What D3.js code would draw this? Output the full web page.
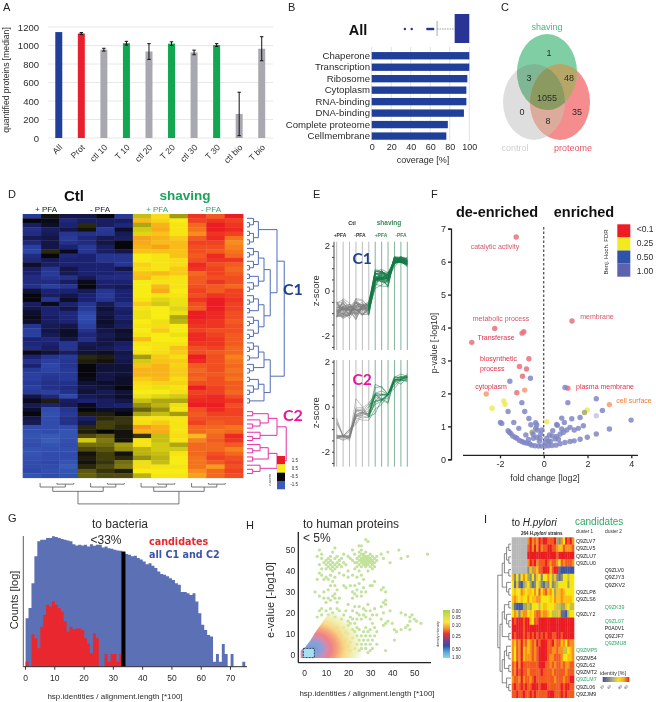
<!DOCTYPE html>
<html><head><meta charset="utf-8">
<script src="https://cdn.jsdelivr.net/npm/d3@7"></script>
<style>html,body{margin:0;padding:0;background:#fff}svg{display:block;font-family:"Liberation Sans",Arial,sans-serif;filter:blur(0.35px)}</style>
</head><body><svg id="c" width="656" height="702"></svg>
<script>
// ---------- Panel A
const aCats=["All","Prot","ctl 10","T 10","ctl 20","T 20","ctl 30","T 30","ctl bio","T bio"];
const aVals=[1145,1130,955,1025,935,1020,925,1005,260,965];
const aErr=[0,10,15,20,85,20,25,15,235,130];
const aCols=["#1f3f99","#e8202e","#a8a8b0","#12a650","#a8a8b0","#12a650","#a8a8b0","#12a650","#a8a8b0","#a8a8b0"];
const aTicks=[0,200,400,600,800,1000,1200];
// ---------- Panel B
const bCats=["Chaperone","Transcription","Ribosome","Cytoplasm","RNA-binding","DNA-binding","Complete proteome","Cellmembrane"];
const bVals=[100,100,98,97,97,94.5,78,76.5];
const bBox={q1:85,q3:100,whisker:67};
const bOutliers=[34,41,57,58,59,60,61,62,63];
const bTicks=[0,20,40,60,80,100];
// ---------- Panel C
const vennNumbers=[["1",549,53],["3",529,78],["48",569,78],["1055",547,98],["0",522,112],["35",577,112],["8",548,121]];
// ---------- Panel D / E (z-scores, 12 conditions)
const c1Rows=[
[-1.1,-0.45,-0.7,-0.7,-0.5,-1.1,0.3,0.6,0.15,1.4,1.25,1.5],
[-0.5,-0.55,-0.9,-0.8,-0.8,-0.8,0.8,0.65,0.5,1.35,1.4,1.35],
[-0.8,-0.6,-0.85,-0.35,-0.8,-0.9,0.2,0.85,0.55,1.2,1.5,1.4],
[-1.0,-0.8,-0.7,-0.45,-1.1,-0.6,0.35,0.9,0.55,1.15,1.5,1.45],
[-0.95,-0.75,-1.05,-1.0,-1.05,-0.75,0.4,0.75,0.55,1.05,1.4,1.35],
[-0.75,-0.7,-1.1,-0.9,-0.75,-0.8,0.95,0.85,0.7,1.25,1.45,1.15],
[-0.9,-0.7,-1.0,-0.95,-0.7,-0.5,0.9,0.8,0.8,1.35,1.35,1.05],
[-1.15,-0.7,-0.85,-1.1,-0.8,-0.5,0.85,0.95,0.8,1.3,1.3,1.1],
[-1.2,-0.35,-0.55,-1.05,-0.8,-0.7,0.75,0.75,0.75,1.3,1.25,1.15],
[-0.95,-0.5,-0.9,-0.85,-1.05,-1.05,0.5,0.55,0.75,1.25,1.45,1.2],
[-0.9,-0.75,-0.85,-0.85,-1.05,-1.05,0.5,0.55,0.6,1.3,1.4,1.4],
[-0.6,-0.8,-0.85,-0.85,-0.85,-1.05,0.65,0.55,0.6,1.45,1.3,1.25],
[-0.8,-1.05,-0.7,-0.85,-0.85,-0.7,0.6,0.55,0.7,1.4,1.35,1.2],
[-0.85,-1.1,-0.75,-0.85,-0.85,-0.9,0.75,0.8,0.7,1.2,1.35,1.25],
[-0.95,-1.05,-1.0,-0.75,-0.95,-0.95,0.8,0.6,0.55,1.25,1.3,1.3],
[-0.95,-0.95,-0.8,-0.55,-0.85,-0.85,0.5,0.55,0.55,1.25,1.4,1.3],
[-1.0,-1.15,-1.05,-0.5,-0.8,-0.75,0.5,0.8,0.55,1.3,1.25,1.2],
[-0.65,-0.85,-0.85,-0.75,-1.05,-0.85,0.5,0.9,0.5,1.35,1.25,1.35],
[-0.5,-0.8,-0.7,-0.85,-1.1,-0.85,0.5,0.55,0.55,1.3,1.4,1.35],
[-0.5,-1.05,-0.6,-0.85,-1.05,-0.85,0.55,0.4,0.45,1.4,1.5,1.4],
[-0.8,-0.55,-0.85,-1.05,-0.75,-1.0,0.7,0.35,0.45,1.3,1.5,1.35],
[-0.7,-0.85,-0.7,-1.1,-0.65,-0.85,0.55,0.5,0.4,1.25,1.5,1.35],
[-0.6,-0.85,-0.9,-1.25,-0.7,-0.8,0.45,0.5,0.45,1.5,1.45,1.3],
[-0.55,-0.8,-0.9,-1.3,-0.65,-0.85,0.45,0.5,0.2,1.5,1.45,1.3],
[-0.6,-0.8,-0.85,-1.25,-0.6,-0.75,0.5,0.45,0.25,1.45,1.4,1.25],
[-1.05,-0.75,-0.7,-1.15,-0.65,-0.8,0.55,0.6,0.5,1.4,1.4,1.3],
[-1.15,-0.7,-0.6,-1.0,-0.7,-0.6,0.5,0.7,0.5,1.35,1.3,1.3],
[-1.15,-0.75,-0.6,-0.9,-0.75,-0.65,0.55,0.5,0.45,1.45,1.35,1.25],
[-0.85,-0.9,-0.7,-1.0,-0.7,-0.6,0.8,0.5,0.5,1.45,1.4,1.25],
[-0.9,-0.85,-1.05,-0.75,-0.7,-0.8,0.55,0.55,0.55,1.4,1.4,1.25],
[-0.95,-0.8,-1.05,-0.7,-0.75,-0.85,0.5,0.55,0.75,1.3,1.35,1.2],
[-0.55,-0.65,-0.8,-0.65,-0.6,-0.7,0.55,0.6,0.7,1.3,1.25,1.2],
[-0.85,-1.05,-1.1,-0.35,-0.4,-0.75,0.15,0.7,0.6,1.5,1.3,1.1],
[-1.0,-1.15,-1.05,-0.4,-0.45,-0.7,0.35,0.75,0.7,1.45,1.3,1.15],
[-0.85,-1.25,-1.05,-0.5,-0.65,-0.65,0.75,0.85,0.65,1.25,1.3,1.2],
[-1.1,-1.2,-1.1,-0.5,-0.65,-0.65,0.85,0.85,0.7,1.2,1.3,1.15],
[-1.15,-1.1,-1.1,-0.5,-0.7,-0.65,0.85,0.85,0.7,1.25,1.25,1.2],
[-1.15,-1.05,-1.1,-0.55,-0.7,-0.6,0.7,0.8,0.6,1.2,1.3,1.15],
[-1.1,-1.0,-1.0,-0.65,-0.6,-0.6,0.6,0.65,0.65,1.3,1.3,1.25],
[-1.15,-1.0,-0.95,-0.7,-0.65,-0.5,0.55,0.45,0.55,1.5,1.35,1.25],
[-1.1,-1.15,-1.0,-0.65,-0.75,-0.65,0.5,0.5,0.6,1.35,1.35,1.2],
[-0.7,-0.9,-1.25,-0.75,-0.7,-0.6,0.45,0.4,0.35,1.4,1.45,1.3],
[-0.55,-0.4,-0.8,-0.85,-0.8,-0.7,0.3,0.2,0.2,1.45,1.45,1.4],
[-0.75,-0.85,-0.75,-0.55,-0.8,-0.85,0.1,0.25,0.45,1.5,1.5,1.3]
];
const c2Rows=[
[-0.6,-1.3,-1.05,-0.5,-0.6,-0.6,-0.1,0.1,0.55,1.3,1.45,1.35],
[-0.5,-1.35,-1.1,-0.4,-0.4,-0.5,0.2,0.3,0.15,1.25,1.35,1.35],
[-0.7,-1.3,-1.0,-0.8,-0.35,-0.3,0.55,0.55,0.55,1.3,1.3,1.3],
[-0.75,-1.3,-1.0,-0.7,-0.25,-0.3,0.6,0.7,0.55,1.35,1.25,1.3],
[-1.3,-1.3,-1.3,-0.35,-0.25,-0.35,1.0,0.85,0.55,1.2,1.2,1.15],
[-1.35,-1.3,-1.4,-0.4,-0.5,-0.45,0.85,0.9,0.55,1.2,1.15,1.2],
[-1.4,-1.45,-1.4,-0.2,-0.1,-0.45,-0.3,0.3,0.6,0.8,1.2,1.45],
[-1.35,-1.5,-1.35,0.35,0.0,-0.45,0.55,0.3,0.55,1.1,1.25,1.4],
[-1.3,-1.4,-1.3,-0.05,-0.05,0.15,0.55,0.35,0.2,1.2,1.2,1.25],
[-1.4,-1.35,-1.35,-0.2,-0.15,0.1,0.25,0.35,0.35,1.2,1.2,1.1],
[-1.4,-1.3,-1.3,-0.45,-0.25,-0.45,0.25,0.3,0.55,1.2,1.3,1.2],
[-1.35,-1.3,-1.3,-0.4,-0.25,-0.35,0.1,0.25,0.5,1.15,1.35,1.3],
[-1.3,-1.25,-1.4,-0.45,-0.3,-0.05,0.45,0.3,0.5,1.15,1.25,1.35],
[-1.3,-1.3,-1.5,-0.35,-0.2,-0.0,0.6,0.55,0.55,1.15,1.0,1.3],
[-1.25,-1.35,-1.4,-0.15,-0.3,-0.4,0.5,0.5,0.5,1.05,1.2,1.35],
[-1.4,-1.3,-1.35,-0.1,-0.2,-0.2,0.25,0.55,0.55,0.95,1.2,1.3]
];
const colGroups=["+ PFA","- PFA","+ PFA","- PFA"];
const dLegendVals=[1.5,0.5,-0.5,-1.5];
const T2=[0,0],T3=[0,[0,0]];
const rowTreeC1=[[[[T3,[T2,T2]]],[[[T3,T3],[T2,T3]],[[T3,T2],[T3,T3]]]],[[[T3,T2],T3],[[T2,T3],T2]]];
const rowTreeC2=[[[T2,T3],T3],[[T3,T2],T3]];
const colTree=[[[T3,T3]],[[T3,T3]]];
// ---------- Panel F
const fPoints=[
[-1.26,6.75,"r"],[-2.24,3.97,"r"],[-0.91,3.87,"r"],[-0.99,3.83,"r"],[-3.29,3.55,"r"],[-0.68,3.05,"r"],[-1.11,2.82,"r"],[-0.79,2.74,"r"],[-0.97,2.52,"r"],[-1.23,2.02,"r"],[1.29,4.2,"r"],[1.10,2.16,"r"],
[-2.63,1.98,"o"],[-0.87,2.10,"o"],[3.0,1.66,"o"],
[-1.83,1.77,"y"],[-1.77,1.67,"y"],[-2.36,1.55,"y"],[0.14,1.14,"y"],[1.99,1.5,"y"],[1.86,1.42,"g"],[-0.53,0.82,"g"],
[-1.55,2.37,"b"],[-0.61,2.46,"b"],[0.97,2.18,"b"],[-1.0,1.72,"b"],[1.1,1.72,"b"],[2.4,1.84,"b"],[-1.63,1.45,"b"],[-0.87,1.45,"b"],[-0.68,1.24,"b"],[-1.98,1.12,"b"],[-1.92,1.09,"b"],[-1.37,1.12,"b"],[-1.14,0.94,"b"],[-1.63,0.87,"b"],[-1.57,0.82,"b"],[-0.37,1.11,"b"],[-0.59,1.05,"b"],[-0.32,1.04,"b"],[-0.82,0.74,"b"],[-0.49,0.77,"b"],[-0.37,0.94,"b"],[-0.3,0.89,"b"],[-0.09,0.89,"b"],[-0.14,0.77,"b"],[-0.47,0.64,"b"],[-0.32,0.67,"b"],[-0.17,0.64,"b"],
[-1.42,0.71,"b"],[-1.31,0.67,"b"],[-1.23,0.64,"b"],[-1.11,0.57,"b"],[-1,0.54,"b"],[-0.9,0.51,"b"],[-0.78,0.49,"b"],[-0.65,0.47,"b"],[-0.55,0.43,"b"],[-0.4,0.41,"b"],[-0.24,0.4,"b"],[-0.09,0.4,"b"],[0.06,0.4,"b"],[0.21,0.41,"b"],[0.37,0.42,"b"],[0.56,0.43,"b"],[0.75,0.47,"b"],[0.97,0.51,"b"],[1.2,0.54,"b"],[1.39,0.56,"b"],[1.66,0.61,"b"],[1.99,0.67,"b"],[2.4,0.77,"b"],[3,0.92,"b"],
[3.99,1.19,"b"],[2.68,1.48,"b"],[2.4,1.32,"l"],[1.66,1.27,"b"],[1.28,1.23,"b"],[0.82,1.25,"b"],[0.94,1.12,"b"],[0.59,1.06,"b"],[0.82,0.92,"b"],[1.81,1.02,"b"],[1.58,0.94,"b"],[1.39,0.89,"b"],[1.2,0.97,"b"],[1.05,0.89,"b"],[0.9,0.82,"b"],[0.75,0.77,"b"],[0.59,0.69,"b"],[0.41,0.87,"b"],[0.26,0.74,"b"],[0.14,0.64,"b"],[0.4,0.71,"b"],[0.52,0.62,"b"],[0.67,0.61,"b"],[0.21,0.54,"b"],[0.06,0.51,"b"],[-0.7,0.6,"b"],[-1.5,0.78,"b"],[0.3,0.55,"b"],[0.62,1.03,"b"],[-0.2,0.55,"b"]
];
const fColors={r:"#e8707c",o:"#f39a6e",y:"#eeea5a",g:"#a5a860",b:"#8086c4",l:"#c4c6e2"};
const fLabels=[["catalytic activity",495,249,"middle","#d8556a"],["metabolic process",501,321,"middle","#d8556a"],["Transferase",496,340,"middle","#e0304a"],["biosynthetic",480,361,"start","#e0304a"],["process",480,370.5,"start","#e0304a"],["cytoplasm",491,388.5,"middle","#e0304a"],["membrane",597,319,"middle","#d8556a"],["plasma membrane",605,388.5,"middle","#e0304a"],["cell surface",634,403,"middle","#f07a30"]];
const fLegendCols=["#ee1c25","#f0ea1e","#3052a8","#5d62ac"];
const fLegendLabs=["<0.1","0.25","0.50","1.00"];
// ---------- Panel G (log-count heights per 1% bin)
const gBlue=[1.48,1.79,2.55,3.37,3.83,3.88,3.88,3.93,3.93,3.98,3.96,3.93,3.90,3.88,3.85,3.83,3.74,3.70,3.72,3.70,3.72,3.67,3.74,3.69,3.72,3.72,3.64,3.67,3.62,3.60,3.57,3.55,3.54,3.52,3.44,3.42,3.37,3.39,3.32,3.27,3.21,3.13,3.16,3.08,3.01,2.91,2.83,2.81,2.76,2.70,2.65,2.55,2.50,2.28,2.28,2.24,2.19,2.24,1.99,1.63,1.28,1.12,0.97,0.92,0.15,0.39,0.15,0.69,0.39,0,0.39,0,0,0,0.15];
const gRed=[0.15,0,0.99,0.87,0.56,1.22,1.58,1.89,1.84,1.99,1.89,1.79,1.68,1.38,1.07,1.22,1.14,1.17,1.17,1.12,0.87,0.71,0.41,1.02,0.87,0,0,0.39,0.15,0.39,0.39,0.15,0.39,0.15];
const gTicks=[0,10,20,30,40,50,60,70];
// ---------- Panel H
const hPoints=[[28,55],[29,54],[26,52],[7,50],[14,51],[22,50],[25,52],[8,48],[13,49],[18,48],[6,47],[8,46],[12,47],[15,47],[17,46],[20,47],[23,48],[25,49],[26,50],[27,48],[28,49],[30,48],[31,47],[33,47],[35,48],[36,46],[38,49],[39,44],[43,50],[44,46],[47,47],[56,48],
[21,46],[22,45],[23,44],[24,46],[24,44],[25,47],[25,45],[25,43],[26,48],[26,46],[26,45],[26,44],[26,42],[27,47],[27,46],[27,45],[27,44],[27,43],[28,47],[28,46],[28,45],[28,44],[28,43],[28,42],[29,47],[29,46],[29,45],[29,44],[29,43],[30,46],[30,45],[30,44],[30,42],[31,45],[31,44],[31,43],[32,46],[32,44],[32,42],[24,42],[23,41],[31,41],[29,40],[25,40],[33,45],
[7,43],[8,41],[7,39],[9,44],[10,45],[10,43],[10,41],[11,46],[11,44],[11,42],[12,45],[12,43],[12,41],[13,44],[13,42],[13,40],[14,46],[14,43],[14,41],[15,44],[15,42],[16,45],[16,43],[17,42],[18,44],[19,43],[8,38],[6,36],[9,36],[10,37],[11,36],[12,38],[13,35],[14,37],[16,39],[18,38],[20,40],[20,37],[22,38],[24,37],[26,38],[27,36],[30,33],[31,33],[32,35],[21,33],[18,33],[19,32],[23,33],[25,34],[27,32],[26,30],[24,31],[23,29],[22,30],[24,28],[22,27],[26,28],[28,30],[12,33],[11,31],[14,33],[15,31],[36,32],[35,31],[37,30],[37,26],[36,25],[9,30],[5,30],[7,28],[9,27],[11,27],[12,26],[13,28],[14,29],[14,27],[16,27],[15,25],[10,25],[8,22],[7,21],[8,19],[6,18],[10,21],[12,22],[13,20],[15,22],[11,19],[14,18],[16,21],[17,17],[18,19],[19,21],[20,24],[21,18],[22,21],[23,23],[24,20],[25,23],[26,17],[25,19],[24,17],[23,15],[22,17],[21,15],[20,16],[27,19],[27,22],[28,18],[28,21],[29,24],[30,17],[30,21],[31,15],[31,19],[32,22],[32,13],[33,19],[35,17],[36,20],[37,24],[35,23],[37,15],[36,14],[38,16],[39,21],[40,15],[41,12],[42,11],[41,7],[44,12],[46,13],[47,14],[44,20],[46,19],[48,18],[48,16],[49,19],[50,17],[51,16],[53,15],[48,12],[37,2],
[15,13],[16,11],[17,9],[18,13],[19,11],[19,7],[20,14],[20,10],[21,6],[22,12],[22,8],[23,11],[24,9],[24,13],[24,5],[25,7],[25,12],[26,9],[26,5],[26,3],[27,11],[27,7],[28,13],[28,9],[28,5],[28,3],[29,11],[29,7],[30,12],[30,9],[30,5],[30,2],[31,7],[32,9],[33,11],[33,5],[31,3],[29,1],[25,2],[23,3],[21,2],[20,4],[18,3],[18,6],[16,5],[16,2],[14,3],[14,6]];
const hTicks=[0,10,20,30,40,50];
const hDensityStops=[[0,"#6f9fd8",1],[0.17,"#8f9fd6",1],[0.27,"#d08cb4",1],[0.36,"#ee8088",1],[0.48,"#f6a278",1],[0.62,"#f8d480",.95],[0.8,"#f0ecA0",.8],[1,"#d5e8a8",0]];
const hDensityEdge=[[-1.5,-1.6],[-1.5,2],[0.5,3.5],[2.7,6.5],[5,10.5],[8,15],[14,24],[40,24],[40,-1.6]];
const hLegendStops=["#a6d24e","#d7de42","#f9e640","#f79b2c","#e6322e","#8c3a84","#2e50ac","#5aa8dc","#8ad8ee"];
const hLegendLabs=[["0.00",611],["0.05",617],["0.10",625],["0.25",636],["0.50",649],["1.00",657]];
// ---------- Panel I
const iProteins=[["Q9ZLV7",1,0],["Q9ZLV5",1,0],["Q9ZLU7",1,0],["Q9ZLU0",1,0],["Q9ZLV0",2,0],["Q9ZJY3",2,0],["Q9ZKV2",2,0],["Q9ZLP8",1,0],["Q9ZLS6",1,0],["Q9ZK39",2,1],["Q9ZLY2",1,0],["Q9ZL07",2,1],["P0A0V1",2,0],["Q9ZJF7",2,0],["Q9ZMU8",2,1],["Q9ZMP5",1,1],["Q9ZM54",1,0],["Q9ZL62",1,0],["Q9ZMT2",1,0],["Q9ZLM7",1,1],["Q9ZL06",1,0],["Q9ZJM9",1,0]];
const iRows=["xxxxxxx 7978798 9988893 2759897","xxxxxxx 8979797 8899887 6687778","xxxxxxx 9999999 9999998 9999999","xxxxxxx 7989788 8987887 5878887","xxxxxxx 2637688 9996899 1000000","6252575 3252652 5575362 1255455","5161034 5312542 1325234 5555355","5655765 6657585 7867536 6765555","6765655 7566775 5556576 6766665","4100033 4355545 6655564 4336544","5762677 5657886 7765444 6110455","9899989 9658899 9999999 9999999","9999989 9999999 9999999 9999999","9899989 8989898 9899889 9899999","7687978 6787989 9988978 8675877","7587967 6787899 9988778 7744567","7587967 7787899 9987788 8755667","8797988 8888899 9887878 8787788","8798988 7888889 8888788 8887888","7887978 8789888 8888878 8878899","8988989 8899989 9988888 8989988","8898898 8989888 8899988 8989888"];
const iTree=[[[[T2,T2],[T2]],[T3]],[[[T2,T3],[T2]],[[T3,T2],[T3]]]];
const iLegend=["#3a55a8","#7f7f88","#b9b27a","#f3e31c","#f7a81c","#ea1c24"];

const svg=d3.select("#c");
function txt(s,x,y,o={}){const t=svg.append("text").attr("x",x).attr("y",y).attr("font-size",o.size||9).attr("fill",o.fill||"#2b2b2b").attr("text-anchor",o.anchor||"start").text(s);
 if(o.weight)t.attr("font-weight",o.weight); if(o.family)t.attr("font-family",o.family); if(o.rotate!=null)t.attr("transform",`rotate(${o.rotate} ${x} ${y})`); return t;}
function styleAxis(g,{size=8.5,line="#333",lw=1,tick=line}={}){g.selectAll("text").attr("font-size",size).attr("fill","#2b2b2b").attr("font-family",'"Liberation Sans",Arial,sans-serif');g.selectAll("path.domain").attr("stroke",line).attr("stroke-width",lw);g.selectAll(".tick line").attr("stroke",tick).attr("stroke-width",lw);return g;}
[["A",3,11],["B",288,11],["C",501,11],["D",8,198],["E",313,198],["F",431,198],["G",8,522],["H",246,529],["I",484,523]].forEach(d=>txt(d[0],d[1],d[2],{size:11,fill:"#222"}));

// A
{const y=d3.scaleLinear().domain([0,1200]).range([138,27]);const x=d3.scaleBand().domain(aCats).range([47.5,273]).paddingInner(0.69).paddingOuter(0.345);
 const g=svg.append("g");
 g.selectAll("line.g").data(aTicks).join("line").attr("x1",48).attr("x2",273).attr("y1",d=>y(d)).attr("y2",d=>y(d)).attr("stroke","#e8e8e8");
 g.selectAll("rect").data(aCats).join("rect").attr("x",d=>x(d)).attr("width",x.bandwidth()).attr("y",(d,i)=>y(aVals[i])).attr("height",(d,i)=>138-y(aVals[i])).attr("fill",(d,i)=>aCols[i]);
 aCats.forEach((c,i)=>{if(!aErr[i])return;const cx=x(c)+x.bandwidth()/2;const a=y(aVals[i]+aErr[i]),b=y(aVals[i]-aErr[i]);
  g.append("path").attr("d",`M${cx-1.7} ${a}H${cx+1.7}M${cx} ${a}V${b}M${cx-1.7} ${b}H${cx+1.7}`).attr("stroke","#111").attr("stroke-width",1).attr("fill","none");});
 const ax=svg.append("g").attr("transform","translate(44,0)").call(d3.axisLeft(y).tickValues(aTicks).tickSize(0).tickPadding(5).tickFormat(d3.format("d")));styleAxis(ax,{size:9.5});ax.select(".domain").remove();
 aCats.forEach(c=>txt(c,x(c)+x.bandwidth()/2+4,148,{size:8.5,anchor:"end",rotate:-45}));
 txt("quantified proteins [median]",9,80,{size:8.6,anchor:"middle",rotate:-90});
}
// B
{const x=d3.scaleLinear().domain([0,100]).range([371.7,469.3]);const y=d3.scaleBand().domain(bCats).range([50,141.8]).paddingInner(0.36).paddingOuter(0.18);
 const g=svg.append("g");
 g.selectAll("line").data(bTicks).join("line").attr("x1",d=>x(d)).attr("x2",d=>x(d)).attr("y1",47).attr("y2",141).attr("stroke","#e2e2e2");
 g.selectAll("rect.b").data(bCats).join("rect").attr("x",x(0)).attr("y",d=>y(d)).attr("height",y.bandwidth()).attr("width",(d,i)=>x(bVals[i])-x(0)).attr("fill","#1f3f99");
 const ax=svg.append("g").attr("transform","translate(0,141)").call(d3.axisBottom(x).tickValues(bTicks).tickSize(0).tickPadding(3));styleAxis(ax,{size:9});ax.select(".domain").remove();
 bCats.forEach(c=>txt(c,370,y(c)+y.bandwidth()/2+3.2,{size:9.6,anchor:"end"}));
 txt("coverage [%]",423,163,{size:9,anchor:"middle"});
 txt("All",358,35,{size:14.5,weight:"bold",anchor:"middle",fill:"#111"});
 g.append("rect").attr("x",x(bBox.q1)).attr("y",14).attr("width",x(bBox.q3)-x(bBox.q1)).attr("height",29).attr("fill","#2a3496");
 g.append("line").attr("x1",x(bBox.whisker)).attr("x2",x(bBox.q1)).attr("y1",29).attr("y2",29).attr("stroke","#999").attr("stroke-dasharray","1.5,1");
 g.append("line").attr("x1",x(bBox.whisker)).attr("x2",x(bBox.whisker)).attr("y1",21).attr("y2",36).attr("stroke","#aaa");
 g.selectAll("circle").data(bOutliers).join("circle").attr("cx",d=>x(d)).attr("cy",29).attr("r",1.2).attr("fill","#2a3496");
}
// C
{const S={cx:547,cy:72,rx:30,ry:38},Cn={cx:534,cy:102,rx:31,ry:38},P={cx:560,cy:102,rx:30,ry:38};
 const defs=svg.append("defs");
 const clip=(id,e,parent)=>{const c=defs.append("clipPath").attr("id",id);if(parent)c.attr("clip-path",`url(#${parent})`);c.append("ellipse").attr("cx",e.cx).attr("cy",e.cy).attr("rx",e.rx).attr("ry",e.ry);};
 clip("vs",S);clip("vc",Cn);clip("vp",P);clip("vsc",Cn,"vs");
 const g=svg.append("g");
 const el=(e,f,c)=>{const t=g.append("ellipse").attr("cx",e.cx).attr("cy",e.cy).attr("rx",e.rx).attr("ry",e.ry).attr("fill",f);if(c)t.attr("clip-path",`url(#${c})`);};
 el(Cn,"#dedede");el(P,"#f58c8e");el(S,"#80cfa4");
 el(Cn,"#7fb795","vs");el(P,"#b6a668","vs");el(P,"#dcab9c","vc");el(P,"#8b9a60","vsc");
 vennNumbers.forEach(d=>txt(d[0],d[1],d[2]+3,{size:9,anchor:"middle"}));
 txt("shaving",547,30,{size:9,anchor:"middle",fill:"#4cb57f"});txt("control",515,151,{size:9,anchor:"middle",fill:"#cfcfcf"});txt("proteome",573,151,{size:9,anchor:"middle",fill:"#e85868"});
}
// D
const allRows=c1Rows.concat(c2Rows);
const zColor=d3.scaleLinear().domain([-1.5,-1.2,-0.85,-0.5,0.5,1.0,1.5]).range(["#3a5cb8","#2c44a6","#1c2272","#07060c","#f7ec14","#f89a1c","#ec1c24"]).clamp(true);
function dendro(tree,n,pos,depth,color,vertical,w=1){const root=d3.hierarchy(tree,d=>Array.isArray(d)?d:null);d3.cluster().size([n-1,1]).separation(()=>1)(root);
 const g=svg.append("g").attr("fill","none").attr("stroke",color).attr("stroke-width",w);
 g.selectAll("path").data(root.links()).join("path").attr("d",l=>{const t=pos(l.target.x),s=pos(l.source.x),dt=depth(l.target.height),ds=depth(l.source.height);return vertical?`M${t} ${dt}V${ds}H${s}`:`M${dt} ${t}H${ds}V${s}`;});}
{const x=d3.scaleBand().domain(d3.range(12)).range([22.7,243]);const y=d3.scaleBand().domain(d3.range(60)).range([214,477.7]);
 const g=svg.append("g");
 allRows.forEach((row,r)=>g.append("g").selectAll("rect").data(row).join("rect").attr("x",(d,i)=>x(i)).attr("y",y(r)).attr("width",x.bandwidth()+.4).attr("height",y.bandwidth()+.4).attr("fill",d=>zColor(d)));
 txt("Ctl",74,201,{size:15,weight:"bold",anchor:"middle",fill:"#111"});txt("shaving",185,200,{size:13.5,weight:"bold",anchor:"middle",fill:"#1da35c"});
 [46,100,157,211].forEach((px,i)=>txt(colGroups[i],px,212,{size:8,anchor:"middle",fill:i<2?"#222":"#2aa866"}));
 const c1Pos=d3.scaleLinear().domain([0,43]).range([y(0)+2.2,y(43)+2.2]);const c2Pos=d3.scaleLinear().domain([0,15]).range([y(44)+2.2,y(59)+2.2]);
 dendro(rowTreeC1,44,c1Pos,d3.scalePow().exponent(1.4).domain([0,6]).range([247,277]),"#4f6cb8",false);
 dendro(rowTreeC2,16,c2Pos,d3.scalePow().exponent(1.2).domain([0,4]).range([247,277]),"#e62ea4",false);
 const cp=d3.scaleLinear().domain([0,11]).range([x(0)+9,x(11)+9]);
 dendro(colTree,12,cp,d3.scalePow().exponent(1.8).domain([0,4]).range([483,497]),"#555",true,.8);
 txt("C1",283,295,{size:16,weight:"bold",fill:"#1f3f8f",family:"Lato"});txt("C2",283,421,{size:16,weight:"bold",fill:"#e6159a",family:"Lato"});
 const ly=d3.scaleBand().domain(dLegendVals).range([456,489.3]);
 svg.append("g").selectAll("rect").data(dLegendVals).join("rect").attr("x",277).attr("width",8).attr("y",d=>ly(d)).attr("height",ly.bandwidth()).attr("fill",d=>zColor(d));
 dLegendVals.forEach(v=>txt(v,298,ly(v)+5.5,{size:4.5,anchor:"end"}));
 txt("z-score",271,480,{size:3.6,rotate:-90,anchor:"middle"});
}
// E
{const x=d3.scalePoint().domain(d3.range(12)).range([336.7,407.3]);
 const panel=(rows,y0,top,bot,label,lc,lab)=>{const y=d3.scaleLinear().domain([-2,2]).range([y0+45,y0-45]);
  const g=svg.append("g");
  d3.range(12).forEach(i=>g.append("line").attr("x1",x(i)).attr("x2",x(i)).attr("y1",top).attr("y2",bot).attr("stroke",i<6?"#b4b4b4":"#74ac8c").attr("stroke-width",.9));
  const line=d3.line().x((d,i)=>x(i)).y(d=>y(d));
  rows.forEach(r=>g.append("path").attr("d",line(r.slice(0,6))).attr("fill","none").attr("stroke","#7d7d7d").attr("stroke-width",.55).attr("opacity",.85));
  rows.forEach(r=>g.append("path").attr("d",d3.line().x((d,i)=>x(i+5)).y(d=>y(d))(r.slice(5))).attr("fill","none").attr("stroke","#147a45").attr("stroke-width",.55).attr("opacity",.9));
  const ax=svg.append("g").attr("transform","translate(334,0)").call(d3.axisLeft(y).tickValues([-2.5,-2,-1.5,-1,-0.5,0,0.5,1,1.5,2]).tickSize(2).tickPadding(2).tickFormat(d=>Math.abs(d)===2||d===0?(d<0?"-"+(-d):""+d):""));
  styleAxis(ax,{size:9.5,lw:.9});ax.select(".domain").attr("d",`M0,${top}V${bot}`);
  txt("z-score",319,y0+(y0>350?6:0),{size:9.5,rotate:-90,anchor:"middle"});
  txt(label,362,lab,{size:15.5,weight:"bold",anchor:"middle",fill:lc,family:"Lato"});
 };
 panel(c1Rows,290.7,241.7,350,"C1","#1f3f8f",264);
 panel(c2Rows,406.7,360,466.7,"C2","#e6159a",385);
 txt("Ctl",352,225,{size:5.5,weight:"bold",anchor:"middle"});txt("shaving",389,225,{size:6.5,weight:"bold",anchor:"middle",fill:"#3e8a5c"});
 [[340,"+PFA",0],[360,"-PFA",0],[381,"+PFA",1],[401,"-PFA",1]].forEach(d=>txt(d[1],d[0],236.5,{size:5,weight:"bold",anchor:"middle",fill:d[2]?"#3e8a5c":"#333"}));
}
// F
{const x=d3.scaleLinear().domain([-2,4]).range([500,631.3]);const y=d3.scaleLinear().domain([0,7]).range([459.3,228.7]);
 const g=svg.append("g");
 g.append("line").attr("x1",x(0)).attr("x2",x(0)).attr("y1",227).attr("y2",455.3).attr("stroke","#222").attr("stroke-dasharray","2.5,2");
 g.selectAll("circle").data(fPoints).join("circle").attr("cx",d=>x(d[0])).attr("cy",d=>y(d[1])).attr("r",2.7).attr("fill",d=>fColors[d[2]]).attr("opacity",.85);
 const ay=svg.append("g").attr("transform","translate(451,0)").call(d3.axisLeft(y).ticks(7).tickSize(3).tickPadding(2));styleAxis(ay,{size:9,lw:1.3,line:"#222"});
 const ax=svg.append("g").attr("transform","translate(0,455.3)").call(d3.axisBottom(x).tickValues([-2,0,2,4]).tickSize(3).tickPadding(2).tickFormat(d=>d<0?"-"+(-d):""+d));styleAxis(ax,{size:9,lw:1.3,line:"#222"});ax.select(".domain").attr("d","M463,0H638");
 txt("fold change [log2]",545,481,{size:8.8,anchor:"middle"});txt("p-value [-log10]",437,343,{size:8.8,anchor:"middle",rotate:-90});
 txt("de-enriched",497,217,{size:14.5,weight:"bold",anchor:"middle",fill:"#111"});txt("enriched",584,217,{size:14.5,weight:"bold",anchor:"middle",fill:"#111"});
 fLabels.forEach(d=>txt(d[0],d[1],d[2],{size:7,anchor:d[3],fill:d[4]}));
 const ly=d3.scaleBand().domain(fLegendCols).range([224.3,276.7]);
 svg.append("g").selectAll("rect").data(fLegendCols).join("rect").attr("x",617.3).attr("width",13).attr("y",d=>ly(d)).attr("height",ly.bandwidth()).attr("fill",d=>d);
 fLegendLabs.forEach((l,i)=>txt(l,636.7,232+14*i,{size:8.5}));
 txt("Benj. Hoch. FDR",608,252,{size:6,rotate:-90,anchor:"middle"});
}
// G
{const x=d3.scaleLinear().domain([0,70]).range([25,230]);const y=d3.scaleLinear().domain([0,4]).range([666.7,535.7]);
 const g=svg.append("g");
 const area=d3.area().x((d,i)=>x(i)+.6).y0(y(0)).y1(d=>y(d)).curve(d3.curveStepAfter);
 const bars=(data,c)=>g.append("path").attr("d",area(data.concat([0]))).attr("fill",c);
 bars(gBlue,"#5b70b5");bars(gRed,"#e8282e");
 g.append("rect").attr("x",x(33)-.2).attr("width",4).attr("y",551.7).attr("height",115).attr("fill","#000");
 const ay=svg.append("g").attr("transform","translate(23.3,0)");ay.append("path").attr("d","M0,536V666.7").attr("stroke","#333").attr("stroke-width",.8);
 const ax=svg.append("g").attr("transform","translate(0,666.7)").call(d3.axisBottom(x).tickValues(gTicks).tickSize(3).tickPadding(5));styleAxis(ax,{size:8.5});ax.select(".domain").attr("d","M23.3,0H247");
 txt("to bacteria",120,528,{size:12,anchor:"middle"});txt("<33%",106,544,{size:12,anchor:"middle"});
 txt("candidates",149,545,{size:9.6,weight:"bold",fill:"#e8282e",family:"DejaVu Sans"});txt("all C1 and C2",149,558,{size:9.6,weight:"bold",fill:"#3e54a8",family:"DejaVu Sans"});
 txt("Counts [log]",18,600,{size:11,anchor:"middle",rotate:-90});txt("hsp.identities / alignment.length [*100]",115,699,{size:8,anchor:"middle"});
}
// H
{const x=d3.scaleLinear().domain([0,50]).range([304,414.3]);const y=d3.scaleLinear().domain([0,50]).range([654.7,550]);
 const defs=svg.append("defs");
 const grad=defs.append("radialGradient").attr("id","hd");
 hDensityStops.forEach(s=>grad.append("stop").attr("offset",s[0]).attr("stop-color",s[1]).attr("stop-opacity",s[2]));
 defs.append("clipPath").attr("id","hc").append("polygon").attr("points",hDensityEdge.map(p=>x(p[0])+","+y(p[1])).join(" "));
 const lg=defs.append("linearGradient").attr("id","hl").attr("x1",0).attr("x2",0).attr("y1",0).attr("y2",1);
 hLegendStops.forEach((c,i)=>lg.append("stop").attr("offset",i/(hLegendStops.length-1)).attr("stop-color",c));
 const il=defs.append("linearGradient").attr("id","il");iLegend.forEach((c,i)=>il.append("stop").attr("offset",i/(iLegend.length-1)).attr("stop-color",c));
 const g=svg.append("g");
 g.selectAll("circle").data(hPoints).join("circle").attr("cx",d=>x(d[0])).attr("cy",d=>y(d[1])).attr("r",1.6).attr("fill","#c3e29c");
 const blob=g.append("g").attr("clip-path","url(#hc)");
 blob.append("ellipse").attr("cx",x(4)).attr("cy",y(3)).attr("rx",x(23)-x(0)).attr("ry",y(0)-y(20)).attr("fill","url(#hd)");
 g.append("rect").attr("x",x(-.3)).attr("y",y(3)).attr("width",x(5)-x(0)).attr("height",y(-1.4)-y(3)).attr("fill","#a4e0f0").attr("stroke","#224").attr("stroke-dasharray","2,1").attr("stroke-width",.8);
 const ay=svg.append("g").attr("transform","translate(298.3,0)").call(d3.axisLeft(y).tickValues(hTicks).tickSize(0).tickPadding(3));styleAxis(ay,{size:8.5,lw:1.3,line:"#222"});ay.select(".domain").attr("d","M0,532V662.7");
 const ax=svg.append("g").attr("transform","translate(0,662.7)").call(d3.axisBottom(x).tickValues(hTicks).tickSize(0).tickPadding(7));styleAxis(ax,{size:8.5,lw:1.3,line:"#222"});ax.select(".domain").attr("d","M298.3,0H431");
 txt("to human proteins",303,528,{size:12});txt("< 5%",303,542,{size:12});
 txt("e-value [-log10]",274,600,{size:11,anchor:"middle",rotate:-90});txt("hsp.identities / alignment.length [*100]",367,696,{size:8,anchor:"middle"});
 svg.append("rect").attr("x",443).attr("y",610).attr("width",7).attr("height",48).attr("fill","url(#hl)");
 hLegendLabs.forEach(d=>txt(d[0],452,d[1]+1.5,{size:4.5}));
 txt("density intensity",438.5,634,{size:3.6,anchor:"middle",rotate:-90});
}
// I
{const grid=iRows.map(r=>r.replace(/ /g,"").split(""));
 const x=d3.scaleBand().domain(d3.range(28)).range([511.7,574]);const y=d3.scaleBand().domain(d3.range(22)).range([537.3,697.7]);
 const c=d3.scaleLinear().domain([0,2,4,5,6,7,8,9]).range(["#3a55a8","#8a8a78","#c8c040","#f5e610","#fcc010","#f8901a","#f25a20","#ea1c24"]);
 const g=svg.append("g");
 grid.forEach((row,r)=>g.append("g").selectAll("rect").data(row).join("rect").attr("x",(d,i)=>x(i)).attr("y",y(r)).attr("width",x.bandwidth()+.3).attr("height",y.bandwidth()+.3).attr("fill",d=>d==="x"?"#b8b8b8":c(+d)));
 dendro(iTree,22,d3.scaleLinear().domain([0,21]).range([y(0)+3.6,y(21)+3.6]),d3.scaleLinear().domain([0,5]).range([511,500]),"#555",false,.7);
 iProteins.forEach((p,i)=>txt(p[0],p[1]===1?576:604.7,y(i)+y.bandwidth()/2+2,{size:5.3,fill:p[2]?"#2fa866":"#222"}));
 const t=svg.append("text").attr("x",511.7).attr("y",526).attr("font-size",10).attr("fill","#222");t.append("tspan").text("to ");t.append("tspan").attr("font-style","italic").text("H.pylori");
 txt("candidates",575,525,{size:10,fill:"#2fa866"});
 const s=svg.append("text").attr("x",541.7).attr("y",535).attr("font-size",4.5).attr("text-anchor","middle").attr("fill","#222").attr("font-weight","bold");s.append("tspan").text("264 ");s.append("tspan").attr("font-style","italic").text("H.pylori");s.append("tspan").text(" strains");
 txt("cluster 1",576,533,{size:4.5});txt("cluster 2",604.7,533,{size:4.5});
 txt("identity [%]",613,675,{size:5.3,anchor:"middle"});
 svg.append("rect").attr("x",602.7).attr("y",677).attr("width",26.6).attr("height",5).attr("fill","url(#il)");
 [["20",603],["40",610],["80",621],["90",627]].forEach(d=>txt(d[0],d[1],688,{size:3.6,rotate:-45,anchor:"middle"}));
}
</script></body></html>
